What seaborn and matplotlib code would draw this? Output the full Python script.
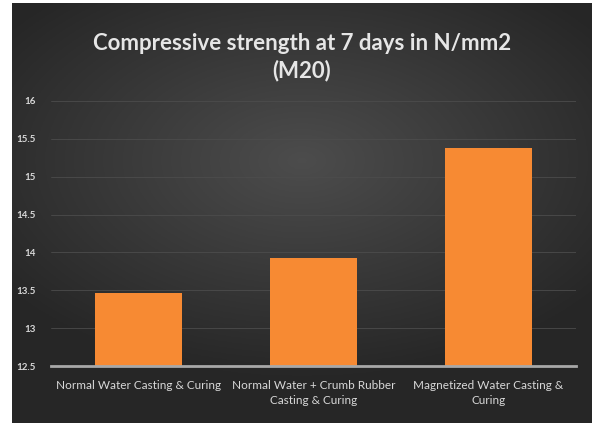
import numpy as np
import pandas as pd
import matplotlib.pyplot as plt
import seaborn as sns

# chart values
categories = ["Normal Water Casting & Curing",
              "Normal Water + Crumb Rubber\nCasting & Curing",
              "Magnetized Water Casting &\nCuring"]
strength = [13.47, 13.93, 15.38]
y_ticks = [12.5, 13, 13.5, 14, 14.5, 15, 15.5, 16]

df = pd.DataFrame({"Mix": categories, "Strength": strength})

sns.set_style("dark")
plt.rcParams['font.family'] = ['Lato', 'DejaVu Sans']

fig = plt.figure(figsize=(5.92, 4.25), dpi=100)
fig.patch.set_facecolor("white")

# dark radial gradient background panel
bg = fig.add_axes([12 / 592, 0.005, 1 - 12 / 592, 1 - 0.012])
gx, gy = np.meshgrid(np.linspace(-1, 1, 300), np.linspace(-1, 1, 220))
r = np.sqrt((gx * 0.9) ** 2 + ((gy + 0.25) * 1.1) ** 2)
shade = np.clip(0.30 - 0.13 * r, 0.15, 0.30)
bg.imshow(np.dstack([shade, shade, shade]), aspect="auto", extent=[0, 1, 0, 1])
bg.set_axis_off()

ax = fig.add_axes([51 / 592, 1 - 366 / 425, 525 / 592, 265 / 425])
ax.set_facecolor("none")
sns.barplot(data=df, x="Mix", y="Strength", color="#f78a33", width=0.5,
            saturation=1, edgecolor="none", linewidth=0, ax=ax, zorder=3)

ax.set_ylim(12.5, 16)
ax.set_xlim(-0.5, 2.5)
ax.set_yticks(y_ticks)
ax.set_yticklabels([f"{t:g}" for t in y_ticks])
ax.grid(axis="y", color="#4c4c4c", linewidth=0.6, zorder=0)
ax.grid(axis="x", visible=False)
for s in ["top", "right", "left"]:
    ax.spines[s].set_visible(False)
ax.spines["bottom"].set_color("#a8a8a8")
ax.spines["bottom"].set_linewidth(2)
ax.spines["bottom"].set_zorder(4)
ax.tick_params(axis="y", length=0, pad=11, labelsize=7, labelcolor="#d8d8d8")
ax.tick_params(axis="x", length=0, pad=10, labelsize=8.5, labelcolor="#d8d8d8")
for lbl in ax.get_yticklabels():
    lbl.set_fontweight("bold")
for lbl in ax.get_xticklabels():
    lbl.set_linespacing(1.5)
ax.set_xlabel("")
ax.set_ylabel("")

fig.text(0.51, 0.866, "Compressive strength at 7 days in N/mm2\n(M20)",
         ha="center", va="center", fontsize=16, fontweight="bold",
         color="#e6e6e6", linespacing=1.35)

fig.savefig("out.png", dpi=100)
